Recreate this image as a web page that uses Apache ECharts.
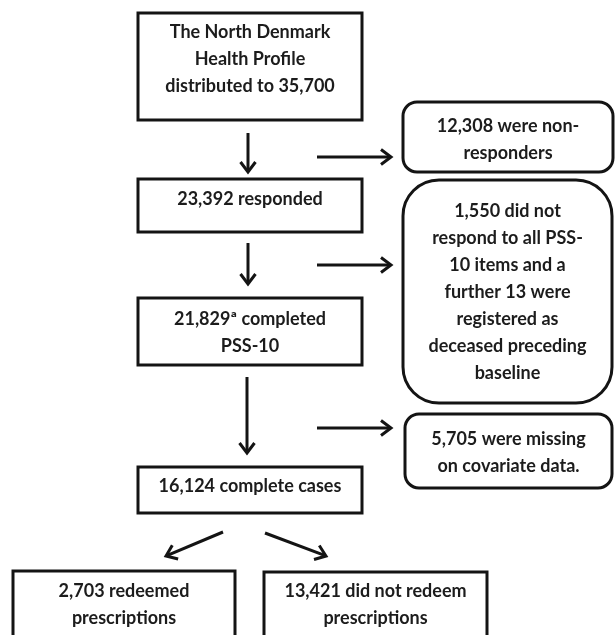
<!DOCTYPE html>
<html>
<head>
<meta charset="utf-8">
<script src="https://cdn.jsdelivr.net/npm/echarts@6/dist/echarts.min.js"></script>
<style>
  html, body { margin: 0; padding: 0; background: #fff; }
  #chart { width: 616px; height: 635px; }
</style>
</head>
<body>
<div id="chart"></div>
<script>
// flow counts
const distributed = '35,700'
const responded = '23,392'
const completedPss = '21,829'
const completeCases = '16,124'
const nonResponders = '12,308'
const missingItems = '1,550'
const deceased = '13'
const missingCovariates = '5,705'
const redeemed = '2,703'
const notRedeemed = '13,421'

// box texts, one entry per line
const mainLabels = [
  ['The North Denmark', 'Health Profile', 'distributed to ' + distributed],
  [responded + ' responded'],
  [completedPss + 'ª completed', 'PSS-10'],
  [completeCases + ' complete cases']
]
const sideLabels = [
  [nonResponders + ' were non-', 'responders'],
  [missingItems + ' did not', 'respond to all PSS-', '10 items and a', 'further ' + deceased + ' were', 'registered as', 'deceased preceding', 'baseline'],
  [missingCovariates + ' were missing', 'on covariate data.']
]
const outcomeLabels = [
  [redeemed + ' redeemed', 'prescriptions'],
  [notRedeemed + ' did not redeem', 'prescriptions']
]

// layout in axis units (x0, y0, x1, y1, corner radius, text top)
const boxes = [
  [138, 13, 362, 120, 0, 19],
  [138, 179, 362, 232, 0, 186],
  [138, 298, 362, 365, 0, 306],
  [138, 467, 362, 513, 0, 473],
  [403, 102, 613, 172, 14, 113],
  [403, 180, 612, 403, 36, 198],
  [405, 414, 612, 488, 14, 426],
  [13, 571, 235, 660, 0, 578],
  [264, 572, 487, 660, 0, 578]
]
const labels = mainLabels.concat(sideLabels, outcomeLabels)

// arrows: from (x, y) to (x, y)
const arrows = [
  [248, 133, 248, 172],
  [248, 243, 248, 284],
  [247, 377, 247, 453],
  [317, 157, 391, 157],
  [317, 265, 391, 265],
  [317, 428, 391, 428],
  [223, 532, 166, 556],
  [265, 533, 326, 556]
]

const ink = '#141414'
const font = 'bold 18px Lato, "Noto Sans", sans-serif'

const myChart = echarts.init(document.getElementById('chart'))

function renderBox (params, api) {
  const b = boxes[params.dataIndex]
  const p0 = api.coord([b[0], b[1]])
  const p1 = api.coord([b[2], b[3]])
  const t = api.coord([(b[0] + b[2]) / 2, b[5]])
  return {
    type: 'group',
    children: [
      {
        type: 'rect',
        shape: { x: p0[0], y: p0[1], width: p1[0] - p0[0], height: p1[1] - p0[1], r: b[4] },
        style: { fill: '#fff', stroke: ink, lineWidth: 3 }
      },
      {
        type: 'text',
        style: {
          text: labels[params.dataIndex].join('\n'),
          x: t[0],
          y: t[1],
          align: 'center',
          verticalAlign: 'top',
          lineHeight: 27,
          font: font,
          fill: '#1c1c1c'
        }
      }
    ]
  }
}

function renderArrow (params, api) {
  const a = arrows[params.dataIndex]
  const s = api.coord([a[0], a[1]])
  const e = api.coord([a[2], a[3]])
  const dx = e[0] - s[0]
  const dy = e[1] - s[1]
  const len = Math.sqrt(dx * dx + dy * dy)
  const ux = dx / len
  const uy = dy / len
  const hl = 10
  const hw = 7.5
  const h1 = [e[0] - ux * hl - uy * hw, e[1] - uy * hl + ux * hw]
  const h2 = [e[0] - ux * hl + uy * hw, e[1] - uy * hl - ux * hw]
  return {
    type: 'group',
    children: [
      {
        type: 'line',
        shape: { x1: s[0], y1: s[1], x2: e[0] - ux * 1.5, y2: e[1] - uy * 1.5 },
        style: { stroke: ink, lineWidth: 3 }
      },
      {
        type: 'polyline',
        shape: { points: [h1, e, h2] },
        style: { stroke: ink, lineWidth: 3, fill: null, lineJoin: 'miter' }
      }
    ]
  }
}

myChart.setOption({
  animation: false,
  grid: { left: 0, right: 0, top: 0, bottom: 0 },
  xAxis: { type: 'value', min: 0, max: 616, show: false },
  yAxis: { type: 'value', min: 0, max: 635, inverse: true, show: false },
  series: [
    {
      type: 'custom',
      clip: false,
      renderItem: renderArrow,
      data: arrows.map((a, i) => [i, i])
    },
    {
      type: 'custom',
      clip: false,
      renderItem: renderBox,
      data: boxes.map((b, i) => [i, i])
    }
  ]
})
</script>
</body>
</html>
